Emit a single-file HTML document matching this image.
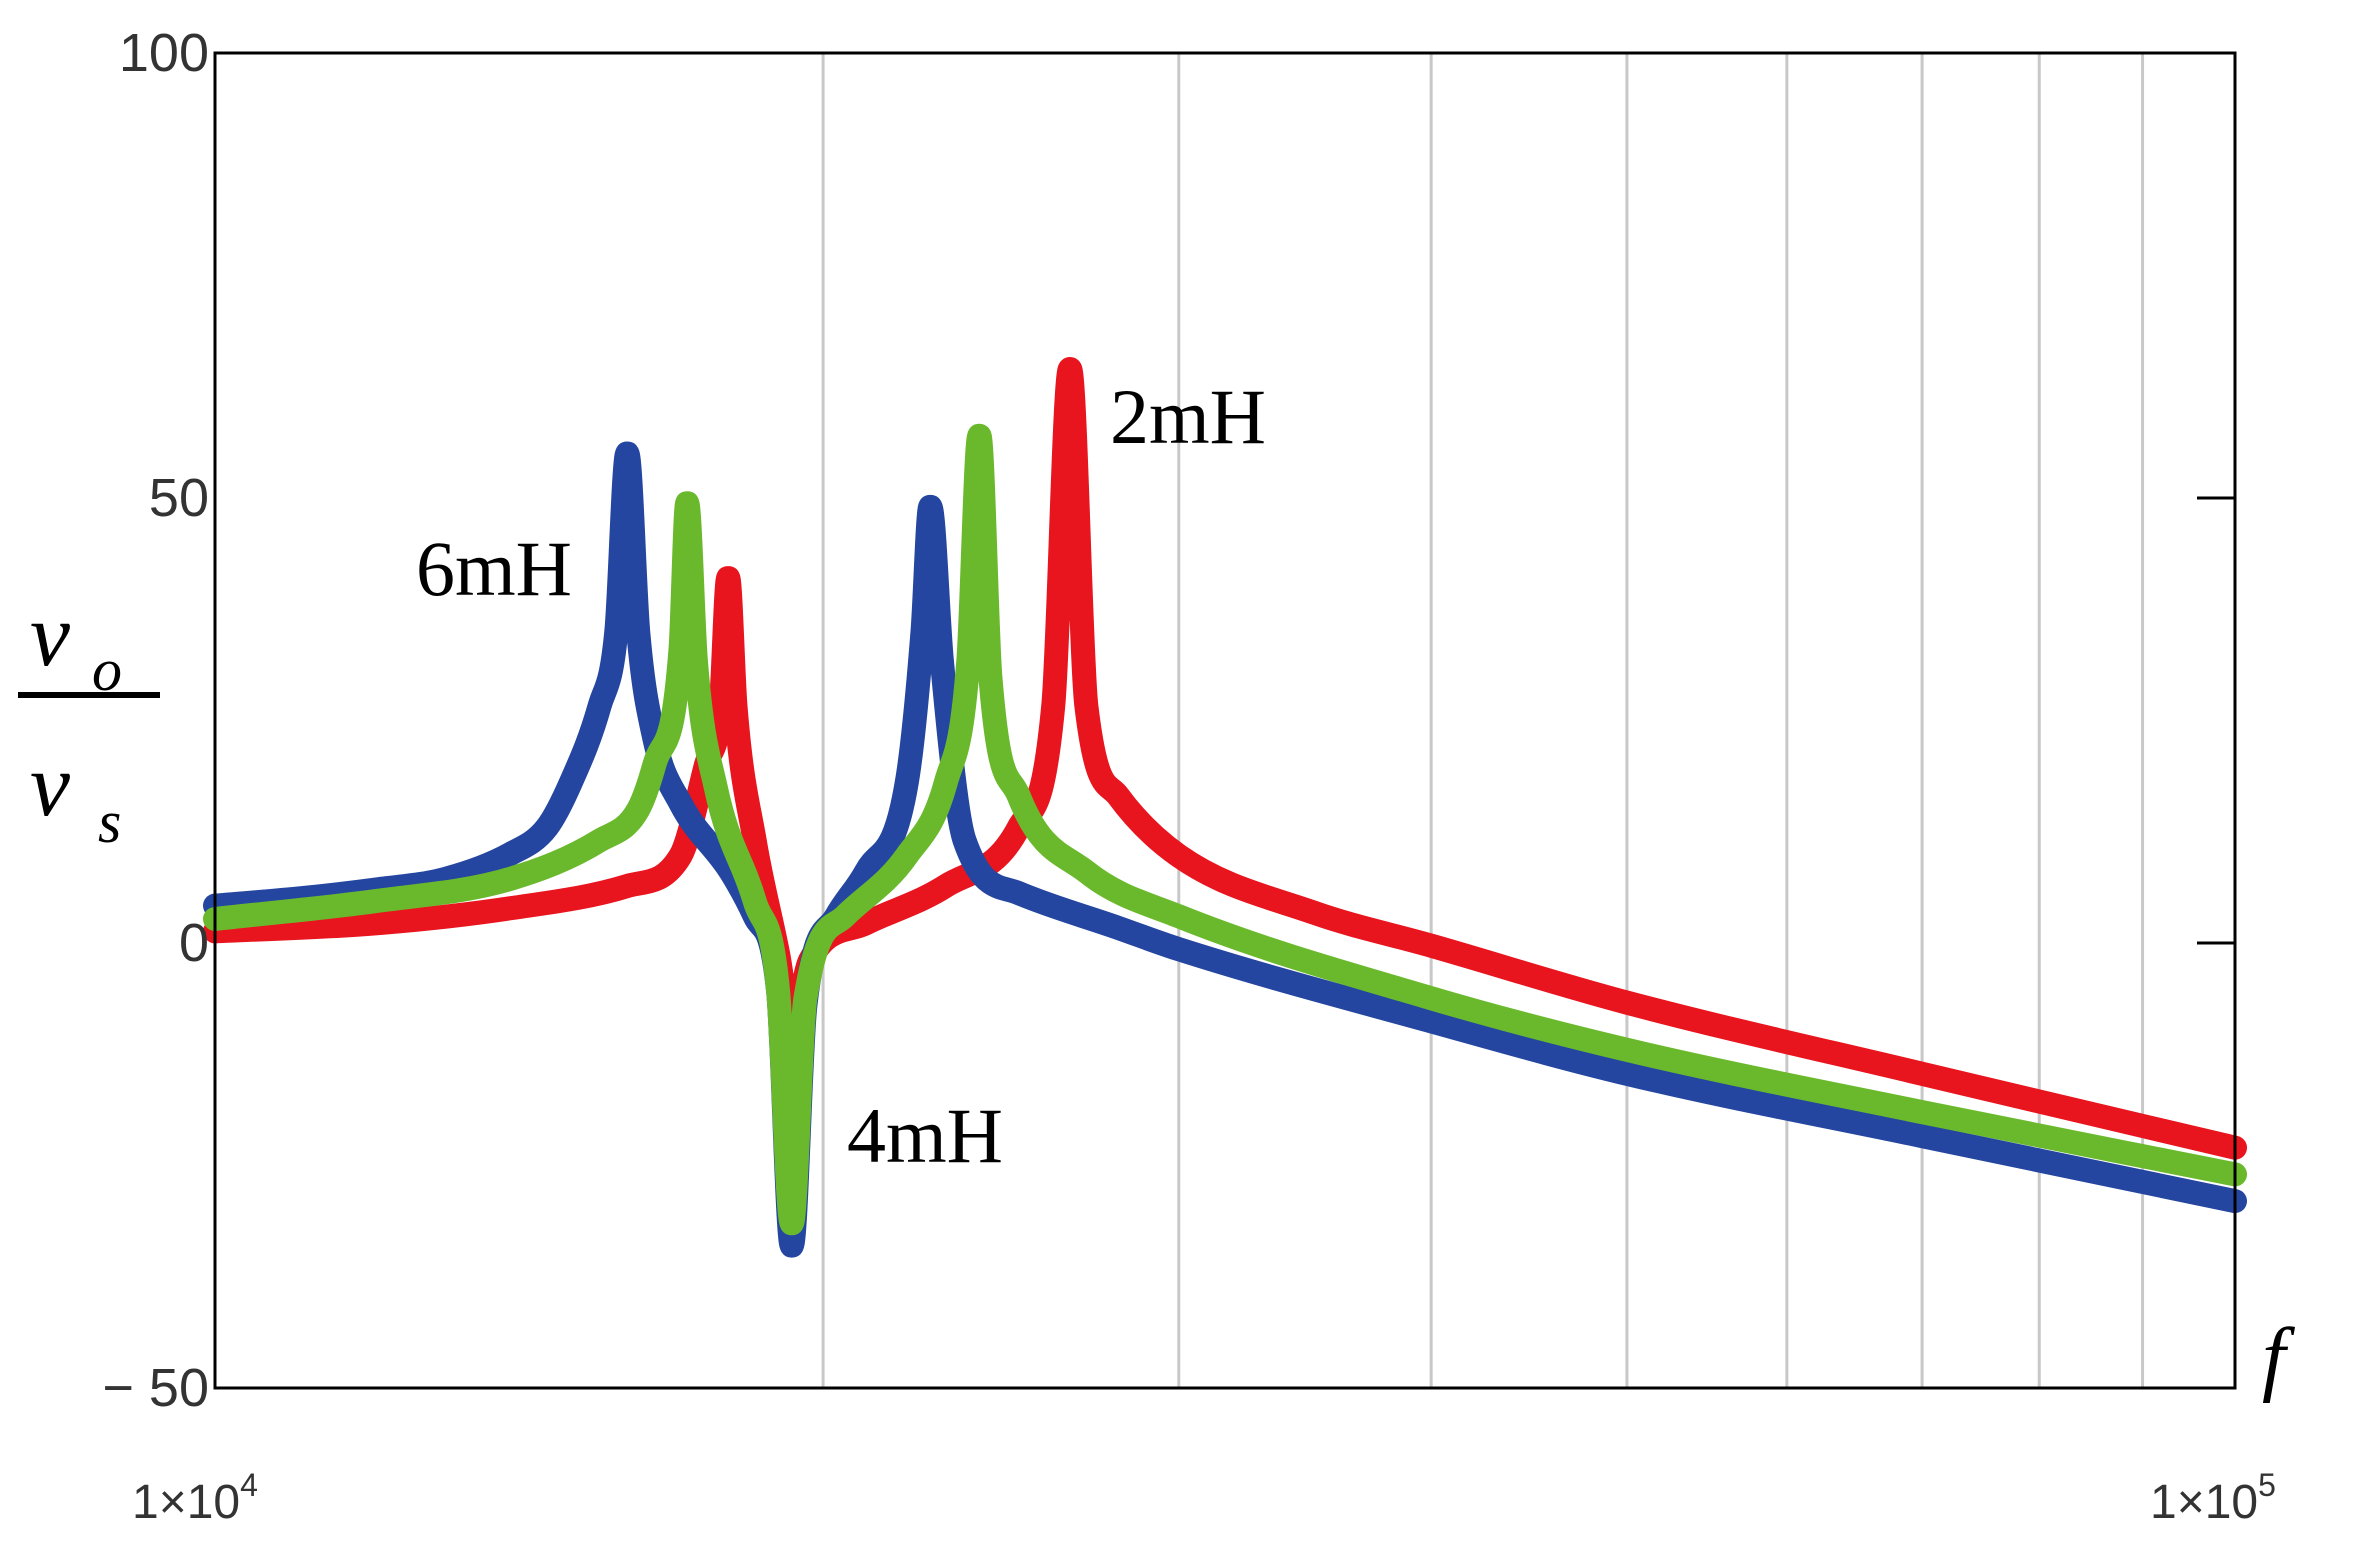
<!DOCTYPE html>
<html><head><meta charset="utf-8"><style>
html,body{margin:0;padding:0;background:#fff;}
svg{display:block;}
</style></head><body>
<svg id="chart" width="2353" height="1550" viewBox="0 0 2353 1550" xmlns="http://www.w3.org/2000/svg">
<g id="grid"></g>
<g id="series"></g>
<rect x="215" y="53" width="2020" height="1335" fill="none" stroke="#000" stroke-width="3"/>
<g id="ticks"></g>
<g font-family="Liberation Sans, sans-serif" font-size="48" fill="#333">
<text x="132" y="1518">1×10<tspan font-size="32" dy="-22">4</tspan></text>
<text x="2150" y="1518">1×10<tspan font-size="32" dy="-22">5</tspan></text>
</g>
<g font-family="Liberation Serif, serif" fill="#000">
<text x="416" y="595" font-size="78">6mH</text>
<text x="1110" y="443" font-size="78">2mH</text>
<text x="847" y="1162" font-size="78">4mH</text>
<text x="2262" y="1385" font-size="84" font-style="italic">f</text>
<g>
<text x="30" y="665" font-size="90" font-style="italic">v</text>
<text x="92" y="690" font-size="60" font-style="italic">o</text>
<rect x="18" y="692" width="142" height="6" fill="#000"/>
<text x="30" y="815" font-size="90" font-style="italic">v</text>
<text x="98" y="842" font-size="60" font-style="italic">s</text>
</g>
</g>
</svg>
<script>
const fBlue=[10000,11000,12000,13000,14000,14600,15000,15500,15800,16000,16200,16500,17000,18000,18500,19000,19300,19600,20300,21000,22000,22400,22600,22900,23500,25000,28000,30000,40000,50000,70000,100000];
const vBlue=[4.2,5,6,7.2,10,13,18,26.6,35,55,35,23,15.7,8,3,-5.4,-34,-7,3,8,18,35,49,31.7,11.5,5.6,1.7,-0.7,-8.8,-14.7,-21.7,-29];
const fGreen=[10000,12000,14000,15500,16200,16500,17000,17130,17300,17700,18500,19000,19300,19600,20500,22000,23000,23600,23900,24200,25000,27000,30000,40000,50000,70000,100000];
const vGreen=[2.7,4.7,7.2,11.5,15,20,33,49.4,31.7,17.4,4.7,-5.4,-31.5,-6.2,3,9.8,18,31.7,57,30,16.5,8,3,-6.2,-12,-19,-26];
const fRed=[10000,12000,14000,16000,17000,17500,17800,17950,18100,18500,19000,19300,19700,21000,23000,25000,26000,26500,27000,28000,30000,35000,40000,50000,70000,100000];
const vRed=[1.3,2.2,3.9,6.4,9.8,20,26.6,41,26.6,11.5,-1.2,-9.6,-2,2.2,6.4,13,26.6,64.5,26.6,16.5,9.8,3.4,-0.3,-6.7,-14.7,-23];
const gridF=[20000,30000,40000,50000,60000,70000,80000,90000];
const yTicks=[100,50,0,-50];
const yTickLabels=["100","50","0","\u2212 50"];
const NS="http://www.w3.org/2000/svg";
const X0=215,X1=2235,Y0=1388,Y1=53;
function xs(f){return X0+(Math.log10(f)-4)*(X1-X0);}
function ys(v){return Y0-(v+50)/150*(Y0-Y1);}
const grid=document.getElementById('grid');
gridF.forEach(f=>{const l=document.createElementNS(NS,'line');


l.setAttribute('x1',xs(f));l.setAttribute('x2',xs(f));l.setAttribute('y1',Y1);l.setAttribute('y2',Y0);
l.setAttribute('stroke','#c8c8c8');l.setAttribute('stroke-width','3');grid.appendChild(l);});
const ticks=document.getElementById('ticks');
yTicks.forEach((v,i)=>{const t=document.createElementNS(NS,'text');


t.setAttribute('x',X0-6);t.setAttribute('y',ys(v)+18);t.setAttribute('text-anchor','end');
t.setAttribute('font-family','Liberation Sans, sans-serif');t.setAttribute('font-size','54');t.setAttribute('fill','#333');
t.textContent=yTickLabels[i];ticks.appendChild(t);
if(v>-50&&v<100){const m=document.createElementNS(NS,'line');


m.setAttribute('x1',X1-38);m.setAttribute('x2',X1);m.setAttribute('y1',ys(v));m.setAttribute('y2',ys(v));
m.setAttribute('stroke','#000');m.setAttribute('stroke-width','3');ticks.appendChild(m);}});
function monoPath(px,py){const n=px.length,d=[],m=new Array(n);
for(let i=0;i<n-1;i++)d.push((py[i+1]-py[i])/(px[i+1]-px[i]));
m[0]=d[0];m[n-1]=d[n-2];
for(let i=1;i<n-1;i++){m[i]=(d[i-1]*d[i]<=0)?0:(d[i-1]+d[i])/2;}
for(let i=0;i<n-1;i++){if(d[i]===0){m[i]=0;m[i+1]=0;continue;}
const a=m[i]/d[i],b=m[i+1]/d[i],s=a*a+b*b;if(s>9){const t=3/Math.sqrt(s);m[i]=t*a*d[i];m[i+1]=t*b*d[i];}}
let s='M'+px[0].toFixed(1)+','+py[0].toFixed(1);
for(let i=0;i<n-1;i++){const h=(px[i+1]-px[i])/3;
s+=' C'+(px[i]+h).toFixed(1)+','+(py[i]+m[i]*h).toFixed(1)+' '+(px[i+1]-h).toFixed(1)+','+(py[i+1]-m[i+1]*h).toFixed(1)+' '+px[i+1].toFixed(1)+','+py[i+1].toFixed(1);}
return s;}
const ser=document.getElementById('series');
function draw(fs,vs,color,name){const p=document.createElementNS(NS,'path');


p.setAttribute('d',monoPath(fs.map(xs),vs.map(ys)));
p.setAttribute('fill','none');p.setAttribute('stroke',color);p.setAttribute('stroke-width','24');
p.setAttribute('stroke-linejoin','round');p.setAttribute('stroke-linecap','round');ser.appendChild(p);}
draw(fRed,vRed,'#e8141e','series-2mh');
draw(fBlue,vBlue,'#2446a0','series-6mh');
draw(fGreen,vGreen,'#6ab92d','series-4mh');
</script>
</body></html>
